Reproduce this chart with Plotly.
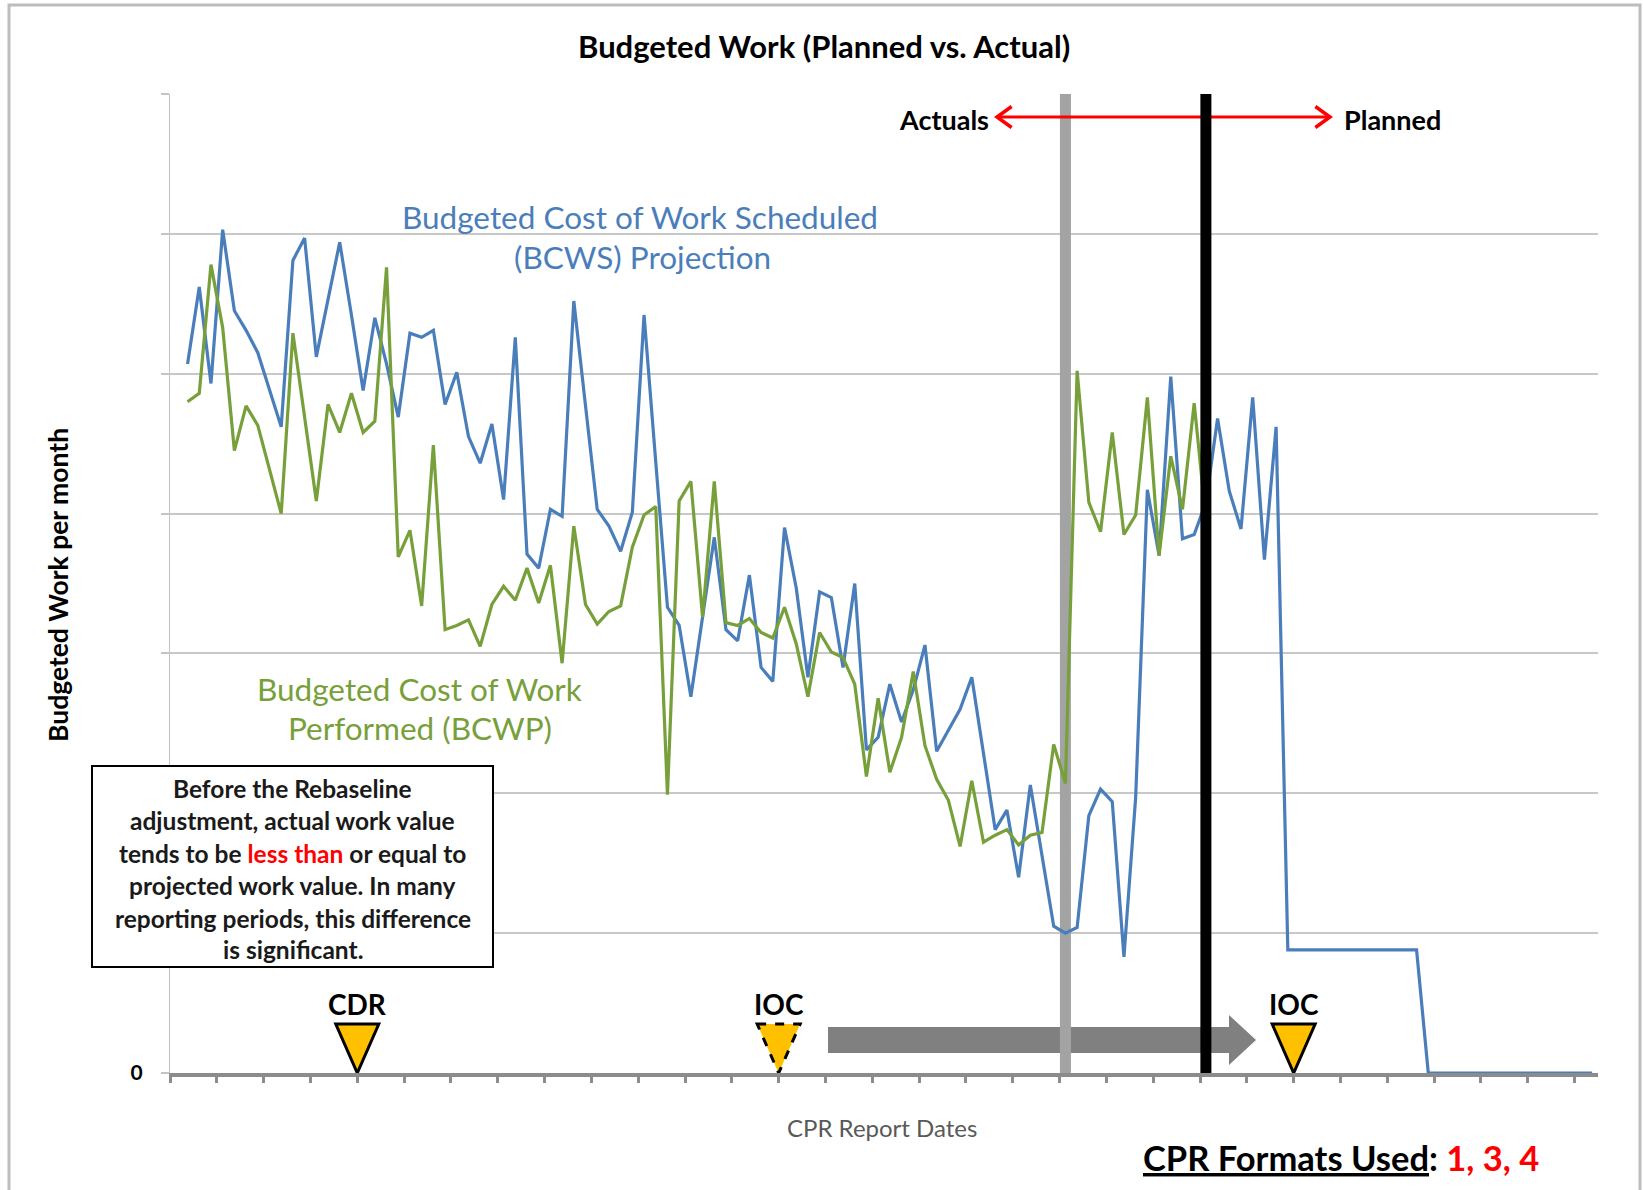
import plotly.graph_objects as go

# ------------------------------------------------------------------
# Data (y in "grid units")
# ------------------------------------------------------------------
n_periods = 122  # number of CPR report-date categories on the x axis

# Budgeted Cost of Work Scheduled (BCWS) projection, periods 1..121
bcws = [5.07, 5.62, 4.93, 6.03, 5.45, 5.31, 5.15, 4.89, 4.62, 5.81,
        5.97, 5.12, 5.52, 5.94, 5.42, 4.88, 5.40, 5.07, 4.69, 5.29,
        5.26, 5.31, 4.78, 5.01, 4.55, 4.36, 4.64, 4.10, 5.26, 3.71,
        3.61, 4.03, 3.98, 5.52, 4.77, 4.03, 3.91, 3.73, 4.01, 5.42,
        4.37, 3.33, 3.20, 2.69, 3.26, 3.83, 3.17, 3.09, 3.56, 2.90,
        2.80, 3.90, 3.47, 2.83, 3.44, 3.40, 2.90, 3.50, 2.31, 2.40,
        2.78, 2.51, 2.74, 3.06, 2.30, 2.45, 2.60, 2.83, 2.28, 1.74,
        1.88, 1.40, 2.06, 1.55, 1.05, 1.00, 1.04, 1.84, 2.03, 1.94,
        0.83, 1.97, 4.17, 3.70, 4.98, 3.82, 3.85, 4.08, 4.68, 4.16,
        3.89, 4.83, 3.67, 4.62, 0.88, 0.88, 0.88, 0.88, 0.88, 0.88,
        0.88, 0.88, 0.88, 0.88, 0.88, 0.88, 0.00, 0.00, 0.00, 0.00,
        0.00, 0.00, 0.00, 0.00, 0.00, 0.00, 0.00, 0.00, 0.00, 0.00,
        0.00]

# Budgeted Cost of Work Performed (BCWP), periods 1..88
bcwp = [4.80, 4.86, 5.78, 5.33, 4.45, 4.77, 4.63, 4.31, 4.00, 5.29,
        4.69, 4.09, 4.78, 4.58, 4.86, 4.58, 4.66, 5.76, 3.69, 3.88,
        3.34, 4.49, 3.17, 3.20, 3.24, 3.05, 3.35, 3.48, 3.38, 3.61,
        3.36, 3.63, 2.93, 3.91, 3.35, 3.21, 3.30, 3.34, 3.76, 3.99,
        4.05, 1.99, 4.09, 4.23, 3.26, 4.23, 3.22, 3.20, 3.25, 3.15,
        3.11, 3.33, 3.07, 2.69, 3.15, 3.01, 2.97, 2.78, 2.12, 2.68,
        2.15, 2.40, 2.87, 2.34, 2.10, 1.95, 1.62, 2.09, 1.65, 1.70,
        1.74, 1.63, 1.70, 1.72, 2.35, 2.07, 5.02, 4.08, 3.87, 4.58,
        3.85, 3.99, 4.83, 3.70, 4.41, 4.03, 4.79, 3.96]

bcws_periods = list(range(1, len(bcws) + 1))
bcwp_periods = list(range(1, len(bcwp) + 1))

# Milestones (positions on the category axis, at tick boundaries)
milestone_labels = ["CDR", "IOC", "IOC"]
milestone_pos = [15.5, 51.5, 95.5]
milestone_dashed = [False, True, False]

# Period markers
rebaseline_period = 76   # grey line (end of old actuals)
status_period = 88       # black line (actuals | planned)

y_ticks = [0, 1, 2, 3, 4, 5, 6, 7]
y_ticktext = ["<b>0</b>", "", "", "", "", "", "", ""]

# ------------------------------------------------------------------
# Layout constants
# ------------------------------------------------------------------
W, H = 1643, 1190
ML, MR, MT, MB = 170, 45, 94, 117
PW, PH = W - ML - MR, H - MT - MB
CAT_W = PW / n_periods
Y_UNIT = PH / 7.0


def px(x):  # pixel x -> paper
    return (x - ML) / PW


def py(y):  # pixel y -> paper
    return (H - MB - y) / PH


def dx(x):  # pixel x -> data x
    return (x - ML) / CAT_W - 0.5


def dy(y):  # pixel y -> data y
    return (H - MB - y) / Y_UNIT


FONT = "Lato, 'Open Sans', sans-serif"
BLUE = "#4A7EBB"
GREEN = "#77A03A"

fig = go.Figure()
fig.add_trace(go.Scatter(x=bcws_periods, y=bcws, mode="lines", name="BCWS",
                         line=dict(color=BLUE, width=3.2), hoverinfo="skip"))
fig.add_trace(go.Scatter(x=bcwp_periods, y=bcwp, mode="lines", name="BCWP",
                         line=dict(color=GREEN, width=3.2), hoverinfo="skip"))

shapes = []
# outer frame
shapes.append(dict(type="rect", xref="paper", yref="paper",
                   x0=px(9), x1=px(1640), y0=py(1200), y1=py(5),
                   line=dict(color="#BDBDBD", width=3), fillcolor="rgba(0,0,0,0)",
                   layer="below"))

# big grey slip arrow (IOC moved right)
ax0, ax1, atip = dx(828), dx(1229), dx(1256)
ayc = dy(1040)
bh, hh = dy(1027) - ayc, dy(1015) - ayc
arrow_path = (f"M {ax0},{ayc - bh} L {ax1},{ayc - bh} L {ax1},{ayc - hh} "
              f"L {atip},{ayc} L {ax1},{ayc + hh} L {ax1},{ayc + bh} L {ax0},{ayc + bh} Z")
shapes.append(dict(type="path", xref="x", yref="y", path=arrow_path,
                   fillcolor="#808080", line=dict(width=0), layer="between"))

# grey vertical line
shapes.append(dict(type="line", xref="x", yref="y", x0=rebaseline_period, x1=rebaseline_period,
                   y0=0, y1=7, line=dict(color="#A3A3A3", width=11), layer="between"))

# red double arrow  Actuals <-> Planned
rx0, rx1, ry = dx(997), dx(1330), dy(117)
cw, ch = 1.25, 0.075
shapes.append(dict(type="line", xref="x", yref="y", x0=rx0, x1=rx1, y0=ry, y1=ry,
                   line=dict(color="#FF0000", width=3), layer="above"))
shapes.append(dict(type="path", xref="x", yref="y",
                   path=f"M {rx0 + cw},{ry + ch} L {rx0},{ry} L {rx0 + cw},{ry - ch}",
                   line=dict(color="#FF0000", width=3.5), fillcolor="rgba(0,0,0,0)", layer="above"))
shapes.append(dict(type="path", xref="x", yref="y",
                   path=f"M {rx1 - cw},{ry + ch} L {rx1},{ry} L {rx1 - cw},{ry - ch}",
                   line=dict(color="#FF0000", width=3.5), fillcolor="rgba(0,0,0,0)", layer="above"))

# black vertical line
shapes.append(dict(type="line", xref="x", yref="y", x0=status_period, x1=status_period,
                   y0=0, y1=7, line=dict(color="#000000", width=11), layer="above"))

# milestone triangles
tri_hw = 21.5 / CAT_W
tri_h = 49 / Y_UNIT
for pos, dashed in zip(milestone_pos, milestone_dashed):
    shapes.append(dict(type="path", xref="x", yref="y",
                       path=f"M {pos - tri_hw},{tri_h} L {pos + tri_hw},{tri_h} L {pos},0 Z",
                       fillcolor="#FFC000",
                       line=dict(color="#000000", width=3, dash="dash" if dashed else "solid"),
                       layer="above"))

# annotation text box
shapes.append(dict(type="rect", xref="paper", yref="paper",
                   x0=px(92), x1=px(493), y0=py(967), y1=py(766),
                   line=dict(color="#000000", width=2), fillcolor="#FFFFFF", layer="above"))

annotations = []


def ann(text, x, y, size, color="#000000", xanchor="center", yanchor="middle",
        xref="paper", yref="paper", **kw):
    annotations.append(dict(text=text, x=x, y=y, xref=xref, yref=yref, showarrow=False,
                            xanchor=xanchor, yanchor=yanchor,
                            font=dict(family=FONT, size=size, color=color), **kw))


ann("<b>Budgeted Work (Planned vs. Actual)</b>", px(824), py(46), 31)
ann("<b>Actuals</b>", px(991), py(119), 27, xanchor="right")
ann("<b>Planned</b>", px(1342), py(120), 27, xanchor="left")

ann("Budgeted Cost of Work Scheduled", px(640), py(217), 31.5, color=BLUE)
ann("(BCWS) Projection", px(642), py(257), 31.5, color=BLUE)
ann("Budgeted Cost of Work", px(419), py(689), 31.5, color=GREEN)
ann("Performed (BCWP)", px(420), py(728), 31.5, color=GREEN)

box_lines = ["Before the Rebaseline",
             "adjustment, actual work value",
             "tends to be <span style='color:#FF0000'>less than</span> or equal to",
             "projected work value. In many",
             "reporting periods, this difference",
             "is significant."]
box_y = [788, 820.5, 853, 885.5, 918, 949.5]
for line, yy in zip(box_lines, box_y):
    ann(f"<b>{line}</b>", px(292.5), py(yy), 24.5, color="#1A1A1A")

ann("<b>Budgeted Work per month</b>", px(58), py(585), 26.5, textangle=-90)
ann("CPR Report Dates", px(882), py(1127), 24, color="#595959")
ann("<b><u>CPR Formats Used</u>: <span style='color:#FF0000'>1, 3, 4</span></b>",
    px(1141), py(1157), 34.5, xanchor="left")

for lab, pos in zip(milestone_labels, milestone_pos):
    ann(f"<b>{lab}</b>", pos, dy(1004), 28, xref="x", yref="y")

fig.update_layout(
    width=W, height=H,
    margin=dict(l=ML, r=MR, t=MT, b=MB, pad=0),
    paper_bgcolor="#FFFFFF", plot_bgcolor="#FFFFFF",
    showlegend=False,
    font=dict(family=FONT),
    shapes=shapes,
    annotations=annotations,
    xaxis=dict(range=[-0.5, n_periods - 0.5], showgrid=False, zeroline=False,
               showline=True, linecolor="#8C8C8C", linewidth=4,
               ticks="outside", tickvals=[4 * j - 0.5 for j in range(31)],
               ticklen=6, tickwidth=3, tickcolor="#8C8C8C", showticklabels=False),
    yaxis=dict(range=[0, 7], tickvals=y_ticks, ticktext=y_ticktext,
               showgrid=True, gridcolor="#C8C8C8", gridwidth=2, zeroline=False,
               showline=True, linecolor="#C4C4C4", linewidth=1,
               ticks="outside", ticklen=8, tickcolor="#C4C4C4", tickwidth=2,
               tickfont=dict(family=FONT, size=21, color="#000000"),
               ticklabelstandoff=14),
)

fig.write_html("out.html", config={"displayModeBar": False},
               post_script="document.body.style.margin='0';")
